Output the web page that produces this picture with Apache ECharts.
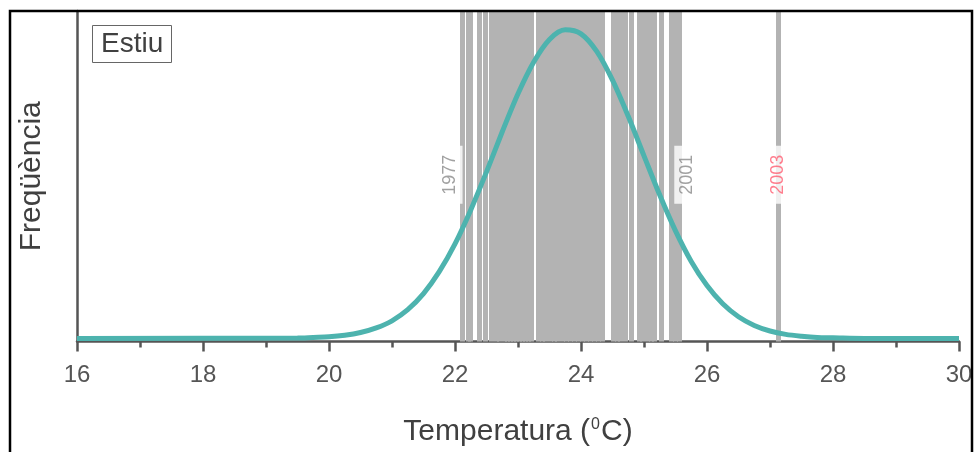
<!DOCTYPE html>
<html>
<head>
<meta charset="utf-8">
<script src="https://cdn.jsdelivr.net/npm/echarts@6/dist/echarts.min.js"></script>
<style>
  html, body { margin: 0; padding: 0; background: #fff; }
  #chart { width: 976px; height: 452px; }
</style>
</head>
<body>
<div id="chart"></div>
<script>
// Mean summer temperature of each year (°C), one grey line per year
const summerTemps = [
  22.12, 22.21, 22.24, 22.39, 22.48, 22.57, 22.65, 22.71, 22.78, 22.83,
  22.87, 22.92, 22.97, 23.02, 23.06, 23.11, 23.16, 23.21, 23.32, 23.38,
  23.44, 23.51, 23.57, 23.63, 23.70, 23.76, 23.83, 23.89, 23.95, 24.02,
  24.08, 24.14, 24.21, 24.27, 24.33, 24.51, 24.57, 24.63, 24.70, 24.79,
  24.92, 24.98, 25.05, 25.11, 25.16, 25.28, 25.43, 25.49, 25.56, 27.13
];

// Highlighted years and their temperatures
const labelYears = ['1977', '2001', '2003'];
const labelTemps = [22.12, 25.56, 27.13];

// Frequency curve (relative frequency vs temperature)
const curveTemps = [
  16, 19.5, 19.75, 20, 20.25, 20.5, 20.75, 21, 21.25, 21.5, 21.75,
  22, 22.25, 22.5, 22.75, 23, 23.25, 23.5, 23.75, 24, 24.25, 24.5,
  24.75, 25, 25.25, 25.5, 25.75, 26, 26.25, 26.5, 26.75, 27, 27.25,
  27.5, 27.75, 28, 28.5, 30
];
const curveFreq = [
  0, 0.001, 0.003, 0.005, 0.010, 0.019, 0.034, 0.057, 0.093, 0.145, 0.216,
  0.306, 0.416, 0.539, 0.669, 0.792, 0.895, 0.968, 0.999, 0.986, 0.929, 0.836,
  0.719, 0.591, 0.464, 0.348, 0.249, 0.171, 0.112, 0.070, 0.042, 0.024, 0.013,
  0.007, 0.003, 0.002, 0, 0
];

const FONT = 'Liberation Sans, Arial, sans-serif';
const AXIS_COLOR = '#555555';
const LABEL_Y = 0.53;

// Rotated labels: offset is given in the text's own (rotated) frame
const labelStyles = [
  { color: '#8a8a8a', offset: [0, -13], padding: [4, 9] },
  { color: '#8a8a8a', offset: [0, 8], padding: [4, 9] },
  { color: '#ff5c70', offset: [0, 0], padding: [1, 9] }
];

const chart = echarts.init(document.getElementById('chart'), null, { renderer: 'canvas' });

chart.setOption({
  animation: false,
  backgroundColor: '#ffffff',
  title: {
    text: 'Estiu',
    left: 92,
    top: 25,
    padding: [5, 9],
    borderColor: '#666666',
    borderWidth: 1,
    textStyle: { fontFamily: FONT, fontSize: 28, fontWeight: 'normal', color: '#404040' }
  },
  grid: { left: 77, right: 17, top: 11, bottom: 109 },
  xAxis: {
    type: 'value',
    min: 16,
    max: 30,
    interval: 2,
    name: 'Temperatura ({sup|0}C)',
    nameLocation: 'middle',
    nameGap: 75,
    nameTextStyle: {
      fontFamily: FONT, fontSize: 30, color: '#404040',
      rich: { sup: { fontFamily: FONT, fontSize: 16, color: '#404040', padding: [0, 1, 15, 1] } }
    },
    axisLine: { onZero: false, lineStyle: { color: AXIS_COLOR, width: 2.5 } },
    axisTick: { length: 10, lineStyle: { color: AXIS_COLOR, width: 2.5 } },
    minorTick: { show: true, splitNumber: 2, length: 6, lineStyle: { color: AXIS_COLOR, width: 2.5 } },
    axisLabel: { fontFamily: FONT, fontSize: 24, color: AXIS_COLOR, margin: 22 },
    splitLine: { show: false },
    minorSplitLine: { show: false }
  },
  yAxis: {
    type: 'value',
    min: -0.01,
    max: 1.06,
    name: 'Freqüència',
    nameLocation: 'middle',
    nameGap: 30,
    nameTextStyle: { fontFamily: FONT, fontSize: 30, color: '#404040' },
    axisLine: { show: true, onZero: false, lineStyle: { color: AXIS_COLOR, width: 2.5 } },
    axisTick: { show: false },
    axisLabel: { show: false },
    splitLine: { show: false }
  },
  series: [
    {
      name: 'years',
      type: 'line',
      data: [],
      z: 1,
      silent: true,
      markLine: {
        silent: true,
        symbol: ['none', 'none'],
        label: { show: false },
        lineStyle: { color: '#b3b3b3', width: 5, type: 'solid', opacity: 1 },
        emphasis: { disabled: true },
        data: summerTemps.map(t => ({ xAxis: t }))
      }
    },
    {
      name: 'labels',
      type: 'scatter',
      zlevel: 1,
      z: 2,
      symbolSize: 0,
      silent: true,
      data: labelTemps.map((t, i) => ({
        value: [t, LABEL_Y],
        label: {
          show: true,
          position: 'inside',
          rotate: 90,
          formatter: labelYears[i],
          fontFamily: FONT,
          fontSize: 18,
          color: labelStyles[i].color,
          backgroundColor: '#ffffff',
          padding: labelStyles[i].padding,
          offset: labelStyles[i].offset
        }
      }))
    },
    {
      name: 'freq',
      type: 'line',
      zlevel: 1,
      z: 3,
      smooth: 0.3,
      showSymbol: false,
      silent: true,
      lineStyle: { color: '#4db3ae', width: 5 },
      data: curveTemps.map((t, i) => [t, curveFreq[i]])
    }
  ],
  graphic: [
    {
      type: 'rect',
      silent: true,
      zlevel: 2,
      shape: { x: 10, y: 11, width: 962, height: 470 },
      style: { fill: 'none', stroke: '#000000', lineWidth: 2.5 }
    }
  ]
});
</script>
</body>
</html>
